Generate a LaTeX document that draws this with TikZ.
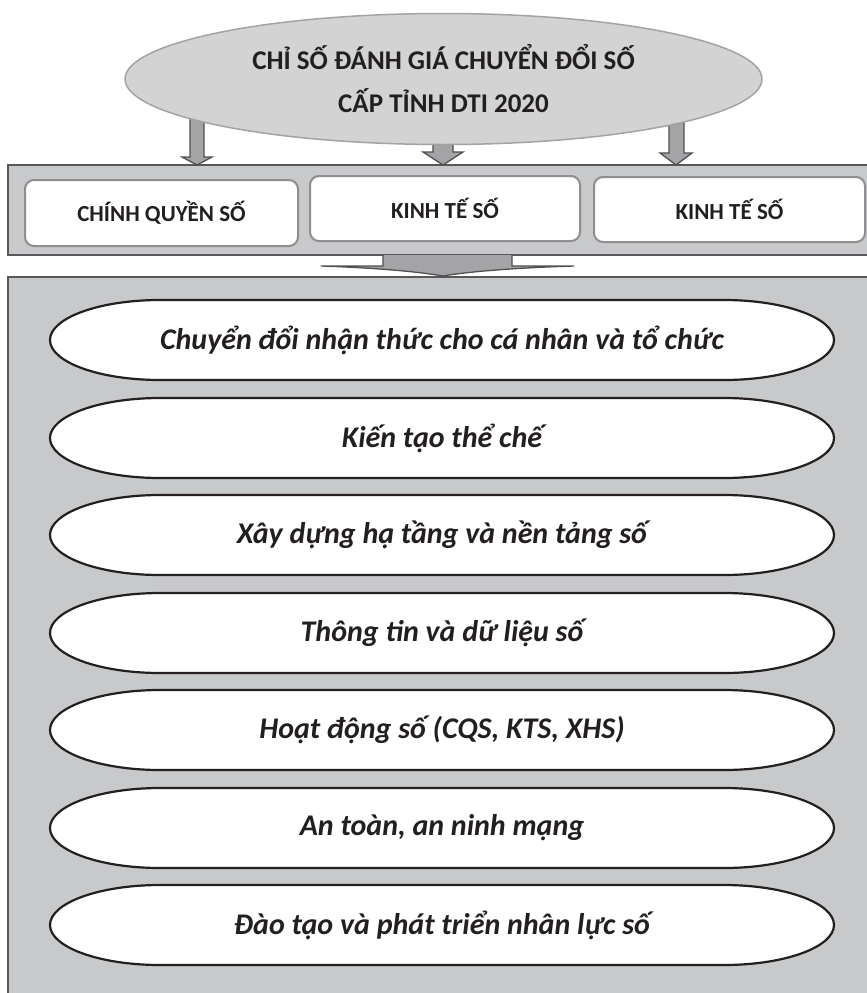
\documentclass[tikz,border=0pt]{standalone}
\usepackage{fontspec}
\setmainfont{Carlito}
\usetikzlibrary{shapes.geometric}
\definecolor{panelgray}{HTML}{C8C9CB}
\definecolor{panelborder}{HTML}{58585A}
\definecolor{boxborder}{HTML}{8E8E90}
\definecolor{topfill}{HTML}{D3D3D4}
\definecolor{topborder}{HTML}{A3A3A5}
\definecolor{arrowfill}{HTML}{A4A4A6}
\definecolor{arrowborder}{HTML}{505052}
\definecolor{ink}{HTML}{231F20}
\begin{document}
\begin{tikzpicture}[x=1pt,y=-1pt,
  panel/.style={fill=panelgray, draw=panelborder, line width=2pt},
  boxnode/.style={draw=boxborder, line width=2pt, fill=white, rounded corners=9pt,
    inner sep=0pt, font=\fontsize{23}{26}\selectfont\bfseries, text=ink},
  ovalshape/.style={draw=ink, line width=2.2pt, fill=white},
  ovaltext/.style={font=\fontsize{30}{34}\selectfont\bfseries\itshape, text=ink, inner sep=0pt},
  fatarrow/.style={fill=arrowfill, draw=arrowborder, line width=1.3pt, line join=miter},
]
\useasboundingbox (0,0) rectangle (867,993);
\clip (0,0) rectangle (867,993);
\fill[white] (0,0) rectangle (867,993);

% strip with the three boxes
\draw[panel] (8,165) rectangle (880,255);
% lower panel
\draw[panel] (8,277) rectangle (880,1010);

% arrows from the top ellipse
\draw[fatarrow] (190,110) -- (190,157) -- (182,157) -- (197,165) -- (212,157) -- (204,157) -- (204,110);
\draw[fatarrow] (433,130) -- (433,152) -- (423,152) -- (443,165) -- (463,152) -- (453,152) -- (453,130);
\draw[fatarrow] (669,110) -- (669,153) -- (660,153) -- (676,165) -- (692,153) -- (684,153) -- (684,110);

% top ellipse
\node[ellipse, fill=topfill, draw=topborder, line width=1.5pt, minimum width=637pt, minimum height=131pt,
  inner sep=0pt, align=center, font=\fontsize{27}{43}\selectfont\bfseries, text=ink]
  (dti) at (443.5,79) {CHỈ SỐ ĐÁNH GIÁ CHUYỂN ĐỔI SỐ\\CẤP TỈNH DTI 2020};

% three boxes
\node[boxnode, minimum width=273pt, minimum height=66pt] (cqs) at (161.5,213) {CHÍNH QUYỀN SỐ};
\node[boxnode, minimum width=270pt, minimum height=65pt] (kts1) at (445,208.5) {KINH TẾ SỐ};
\node[boxnode, minimum width=271pt, minimum height=65pt] (kts2) at (729.5,209.5) {KINH TẾ SỐ};

% big flat arrow between strip and panel
\draw[fatarrow] (383,255) -- (383,266) -- (321,266) .. controls (380,268) and (420,272) .. (443,276)
  .. controls (466,272) and (510,268) .. (574,266) -- (512,266) -- (512,255);

% ovals
\foreach \cy/\name/\txt in {
  340/o1/Chuyển đổi nhận thức cho cá nhân và tổ chức,
  438/o2/Kiến tạo thể chế,
  535/o3/Xây dựng hạ tầng và nền tảng số,
  633/o4/Thông tin và dữ liệu số,
  730/o5/{Hoạt động số (CQS, KTS, XHS)},
  828/o6/{An toàn, an ninh mạng},
  925/o7/Đào tạo và phát triển nhân lực số}{
  \draw[ovalshape] (160,\cy-40) -- (724,\cy-40)
    arc[start angle=-90, end angle=90, x radius=110, y radius=40]
    -- (160,\cy+40)
    arc[start angle=90, end angle=270, x radius=110, y radius=40] -- cycle;
  \node[ovaltext] (\name) at (442,\cy) {\txt};
}
\end{tikzpicture}
\end{document}
